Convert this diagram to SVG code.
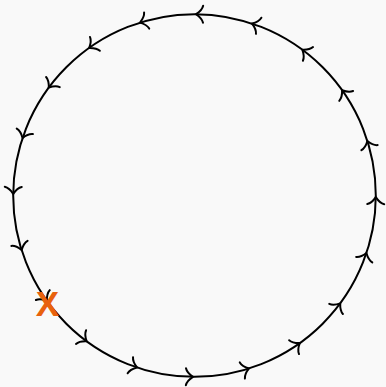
<svg xmlns="http://www.w3.org/2000/svg" xmlns:xlink="http://www.w3.org/1999/xlink" width="386" height="387" viewBox="0 0 386 387">
<style>
.ln{fill:none;stroke:#000;stroke-width:2;stroke-linecap:round}
.lbl{font-family:"Liberation Sans",Arial,sans-serif;font-weight:bold;font-size:35px;fill:#e8620e}
</style>
<defs>
<path id="a" class="ln" d="M -7,-8.5 Q -6,-4 0,0 Q -6,4 -7,8.5"/>
</defs>
<rect width="386" height="387" fill="#f9f9f9"/>
<g id="connectors">
<circle class="ln" cx="194.5" cy="195.5" r="181.3"/>
<g transform="translate(194.5 195.5)">
<use xlink:href="#a" transform="rotate(0.5) translate(181.3 0) rotate(-90)"/>
<use xlink:href="#a" transform="rotate(18.5) translate(181.3 0) rotate(-90)"/>
<use xlink:href="#a" transform="rotate(36.5) translate(181.3 0) rotate(-90)"/>
<use xlink:href="#a" transform="rotate(54.5) translate(181.3 0) rotate(-90)"/>
<use xlink:href="#a" transform="rotate(72.5) translate(181.3 0) rotate(-90)"/>
<use xlink:href="#a" transform="rotate(90.5) translate(181.3 0) rotate(-90)"/>
<use xlink:href="#a" transform="rotate(108.5) translate(181.3 0) rotate(-90)"/>
<use xlink:href="#a" transform="rotate(126.5) translate(181.3 0) rotate(-90)"/>
<use xlink:href="#a" transform="rotate(144.5) translate(181.3 0) rotate(-90)"/>
<use xlink:href="#a" transform="rotate(162.5) translate(181.3 0) rotate(-90)"/>
<use xlink:href="#a" transform="rotate(180.5) translate(181.3 0) rotate(-90)"/>
<use xlink:href="#a" transform="rotate(198.5) translate(181.3 0) rotate(-90)"/>
<use xlink:href="#a" transform="rotate(216.5) translate(181.3 0) rotate(-90)"/>
<use xlink:href="#a" transform="rotate(234.5) translate(181.3 0) rotate(-90)"/>
<use xlink:href="#a" transform="rotate(252.5) translate(181.3 0) rotate(-90)"/>
<use xlink:href="#a" transform="rotate(270.5) translate(181.3 0) rotate(-90)"/>
<use xlink:href="#a" transform="rotate(288.5) translate(181.3 0) rotate(-90)"/>
<use xlink:href="#a" transform="rotate(306.5) translate(181.3 0) rotate(-90)"/>
<use xlink:href="#a" transform="rotate(324.5) translate(181.3 0) rotate(-90)"/>
<use xlink:href="#a" transform="rotate(342.5) translate(181.3 0) rotate(-90)"/>
</g>
</g>
<g id="label-x">
<text class="lbl" x="47.5" y="315.5" text-anchor="middle">X</text>
</g>
</svg>
